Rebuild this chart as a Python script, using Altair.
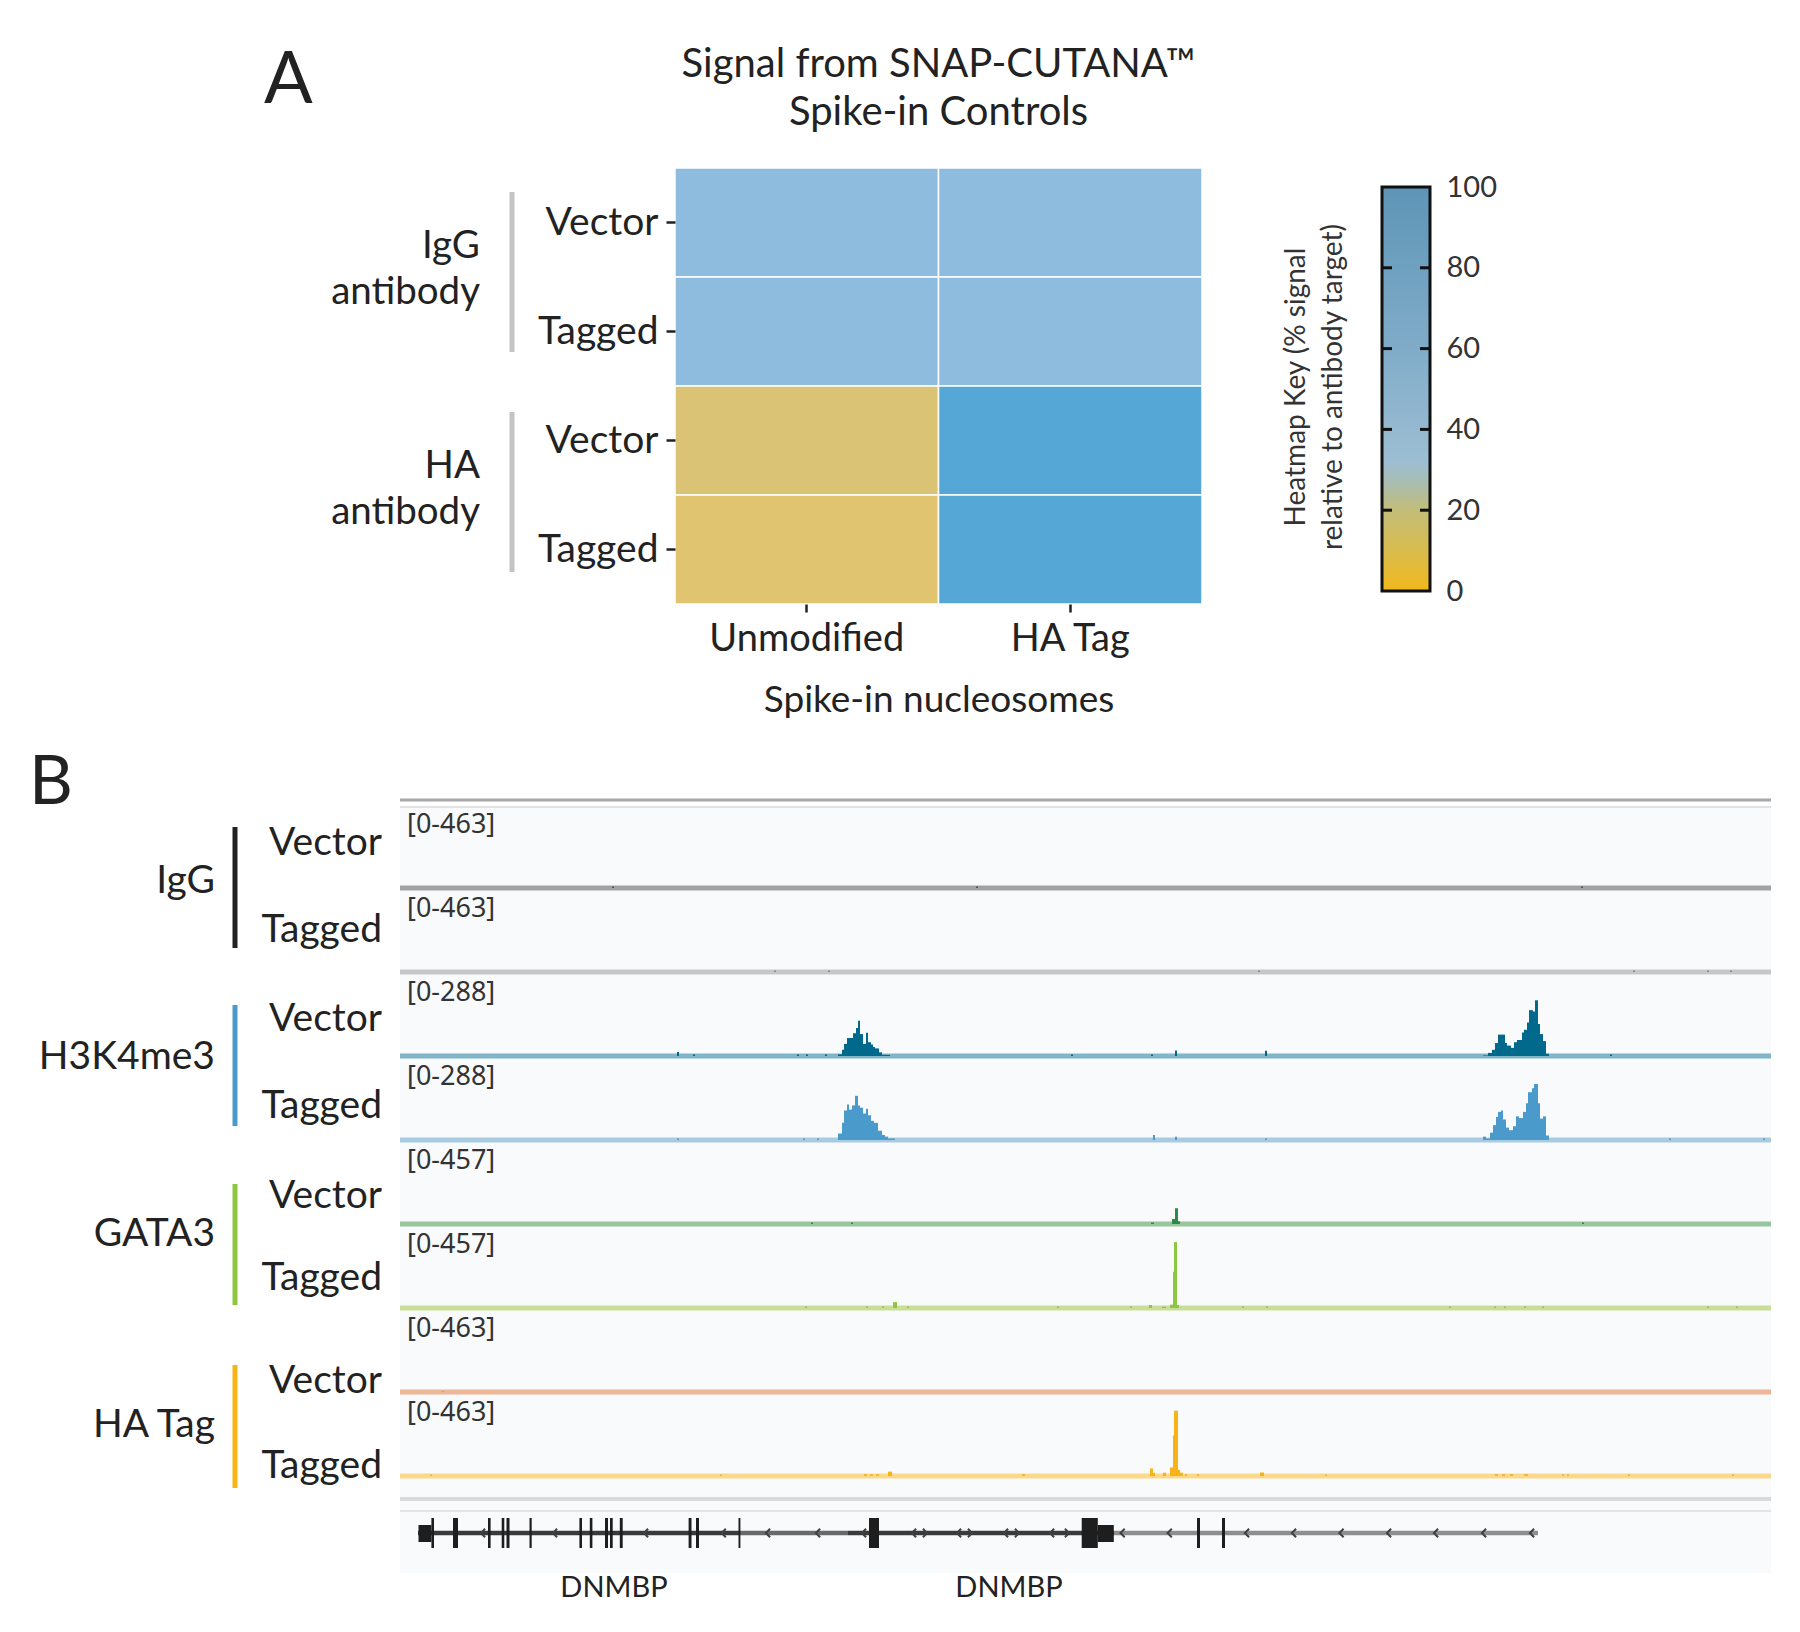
import altair as alt
import pandas as pd

# ======================= Panel A data =======================
SPIKES = ["Unmodified", "HA Tag"]
ANTIBODIES = ["IgG", "HA"]
CELL_LINES = ["Vector", "Tagged"]
# % signal relative to antibody target; order IgG-Vector, IgG-Tagged, HA-Vector, HA-Tagged
PCT_UNMODIFIED = [41, 41, 12, 10]
PCT_HA_TAG = [40, 40, 100, 100]
KEY_RANGE = [0, 100]
KEY_TICKS = [0, 20, 40, 60, 80, 100]

# ======================= Panel B data =======================
REGION = [0, 1371]
TRACK_GROUPS = ["IgG", "H3K4me3", "GATA3", "HA Tag"]
TRACK_CONDS = ["Vector", "Tagged", "Vector", "Tagged", "Vector", "Tagged", "Vector", "Tagged"]
TRACK_MAX = [463, 463, 288, 288, 457, 457, 463, 463]

T1_START = [212, 576, 1181]
T1_END = [214, 578, 1183]
T1_VAL = [8, 8, 8]

T2_START = [374, 428, 858, 1233, 1307, 1330]
T2_END = [376, 430, 860, 1235, 1309, 1332]
T2_VAL = [8, 8, 8, 8, 8, 8]

T3_START = [277, 293, 397, 406, 425,
            438, 442, 444, 447, 453, 456, 458, 460, 463, 466, 468, 471, 473, 475, 479, 482,
            671, 751, 775, 865,
            1083, 1088, 1092, 1095, 1098, 1105, 1107, 1111, 1114, 1117, 1122, 1124, 1127, 1129,
            1133, 1135, 1138, 1140, 1143, 1146,
            1210]
T3_END = [279, 295, 399, 408, 427,
          442, 444, 447, 453, 456, 458, 460, 463, 466, 468, 471, 473, 475, 479, 482, 490,
          673, 753, 777, 867,
          1088, 1092, 1095, 1098, 1105, 1107, 1111, 1114, 1117, 1122, 1124, 1127, 1129, 1133,
          1135, 1138, 1140, 1143, 1146, 1149,
          1212]
T3_VAL = [14, 5, 5, 5, 5,
          6, 22, 43, 64, 81, 100, 125, 78, 43, 83, 49, 41, 32, 27, 13, 4,
          5, 5, 20, 19,
          2, 11, 22, 46, 76, 46, 37, 29, 49, 57, 84, 93, 119, 163, 158, 198, 114, 78, 53, 8,
          5]

T4_START = [277, 403, 417,
            438, 442, 444, 447, 449, 452, 455, 458, 460, 463, 466, 468, 471, 474, 478, 482, 485, 488,
            753, 775, 865,
            1083, 1086, 1090, 1093, 1096, 1098, 1101, 1103, 1106, 1109, 1113, 1116, 1119, 1123,
            1126, 1128, 1132, 1134, 1138, 1140, 1143, 1146,
            1269, 1363]
T4_END = [279, 405, 419,
          442, 444, 447, 449, 452, 455, 458, 460, 463, 466, 468, 471, 474, 478, 482, 485, 488, 495,
          755, 777, 867,
          1086, 1090, 1093, 1096, 1098, 1101, 1103, 1106, 1109, 1113, 1116, 1119, 1123, 1126,
          1128, 1132, 1134, 1138, 1140, 1143, 1146, 1149,
          1271, 1365]
T4_VAL = [5, 5, 5,
          23, 61, 105, 126, 108, 123, 157, 123, 115, 94, 111, 88, 68, 61, 33, 18, 12, 5,
          18, 12, 5,
          12, 5, 26, 53, 82, 100, 105, 73, 44, 35, 49, 84, 78, 100, 131, 170, 184, 199, 131, 76, 84, 16,
          5, 5]

T5_START = [411, 451, 751, 772, 775, 778, 1182]
T5_END = [413, 453, 754, 775, 778, 780, 1184]
T5_VAL = [8, 8, 8, 28, 89, 15, 8]

T6_START = [405, 466, 482, 493, 507, 657, 730, 749, 762, 770, 773, 774, 777,
            842, 866, 1049, 1094, 1104, 1124, 1142, 1307, 1336]
T6_END = [407, 468, 484, 497, 509, 659, 732, 752, 766, 773, 774, 777, 779,
          844, 868, 1051, 1096, 1106, 1126, 1144, 1309, 1338]
T6_VAL = [8, 8, 8, 33, 8, 8, 8, 17, 7, 19, 204, 372, 17,
          8, 8, 8, 8, 8, 8, 8, 8, 8]

T7_START = [42]
T7_END = [44]
T7_VAL = [6]

T8_START = [30, 320, 464, 470, 476, 488, 622, 750, 753, 763, 770, 773, 774, 778, 780, 785, 797,
            860, 925, 1095, 1102, 1110, 1124, 1162, 1167, 1228, 1332]
T8_END = [32, 322, 467, 473, 479, 492, 625, 753, 755, 766, 773, 774, 778, 780, 783, 787, 799,
          864, 927, 1098, 1105, 1113, 1128, 1164, 1169, 1230, 1334]
T8_VAL = [8, 8, 10, 10, 10, 25, 10, 43, 19, 19, 49, 231, 373, 34, 19, 11, 11,
          20, 8, 10, 10, 10, 10, 8, 8, 8, 8]

TRACK_STARTS = [T1_START, T2_START, T3_START, T4_START, T5_START, T6_START, T7_START, T8_START]
TRACK_ENDS = [T1_END, T2_END, T3_END, T4_END, T5_END, T6_END, T7_END, T8_END]
TRACK_VALUES = [T1_VAL, T2_VAL, T3_VAL, T4_VAL, T5_VAL, T6_VAL, T7_VAL, T8_VAL]

# gene model (DNMBP)
GENE_NAMES = ["DNMBP", "DNMBP"]
GENE_NAME_POS = [214, 609]
SEG_START = [18, 340, 448, 714]
SEG_END = [340, 448, 714, 1138]
SEG_DEPTH = [3, 2, 3, 1]  # overlapping transcripts
CDS_START = [31.4, 53, 88, 101.7, 106.5, 129.5, 179.4, 189.8, 205, 210, 219.8, 288.6, 296,
             338.5, 469, 681.7, 797, 822]
CDS_END = [34, 58, 90.6, 104.3, 109.5, 131.7, 182, 192.4, 208, 212.7, 222.7, 291.5, 299,
           340.4, 479, 697.8, 800, 825]
UTR_START = [18.5, 697.8]
UTR_END = [31.4, 713.8]
CHEV_LEFT = [83, 155, 246, 323.7, 368, 418, 464, 514, 559, 606, 652, 722.6, 769.7, 847, 894,
             941.5, 989, 1036, 1084, 1132]
CHEV_RIGHT = [525, 570, 617, 667]

# ======================= styles / layout =======================
FONT = "Lato"
FONT_SMALL = "Noto Sans"
INK = "#222222"
BAR_COLORS = ["#555555", "#8A8A8A", "#00698C", "#4A9BCB", "#2E8B45", "#8DC63F", "#E8956A", "#F8B316"]
LINE_COLORS = ["#A2A2A2", "#C7C7C7", "#80B5CA", "#A7CCE1", "#98C49E", "#C9DE96", "#EDB797", "#FCD98A"]
GROUP_COLORS = ["#222222", "#4A9BCB", "#8DC63F", "#F8B316"]
SUBLABEL_Y = [36, 39, 44, 47, 53, 51, 70, 71]
GROUP_LABEL_Y = [74, 82, 91, 114]
GROUP_BAR_Y = [(20, 141), (30, 151), (41, 162), (54, 177)]
KEY_GRADIENT = alt.LinearGradient(
    gradient="linear", x1=0, x2=0, y1=1, y2=0,
    stops=[alt.GradientStop(offset=0.0, color="#F2B81B"),
           alt.GradientStop(offset=0.10, color="#D9BC4E"),
           alt.GradientStop(offset=0.20, color="#C3BD78"),
           alt.GradientStop(offset=0.27, color="#A9BDB2"),
           alt.GradientStop(offset=0.32, color="#9DBED3"),
           alt.GradientStop(offset=0.60, color="#80ACC9"),
           alt.GradientStop(offset=1.0, color="#5E95B6")])

HEAT_W, HEAT_H = 527, 436
TRACK_W, TRACK_H = 1371, 84
TRACK_BASE = 81
GENE_H = 94

ANNOT = pd.DataFrame({"n": [0]})


def label(text, x, y, size, align="right", font=FONT, color=INK, **kw):
    return alt.Chart(ANNOT).mark_text(
        text=text, align=align, baseline=kw.pop("baseline", "middle"), font=font,
        fontSize=size, color=color, **kw
    ).encode(x=alt.value(x), y=alt.value(y))


def vbar(x, y1, y2, color, width):
    return alt.Chart(ANNOT).mark_rule(color=color, strokeWidth=width).encode(
        x=alt.value(x), y=alt.value(y1), y2=alt.value(y2))


# ======================= Panel A =======================
rows = []
for gi, ab in enumerate(ANTIBODIES):
    for ci, cl in enumerate(CELL_LINES):
        i = gi * 2 + ci
        rows.append({"row": f"{ab}|{cl}", "spike": SPIKES[0], "pct": PCT_UNMODIFIED[i]})
        rows.append({"row": f"{ab}|{cl}", "spike": SPIKES[1], "pct": PCT_HA_TAG[i]})
heat_df = pd.DataFrame(rows)
row_order = [f"{ab}|{cl}" for ab in ANTIBODIES for cl in CELL_LINES]

heat = alt.Chart(heat_df).mark_rect(stroke="white", strokeWidth=1.5).encode(
    x=alt.X("spike:N", sort=SPIKES, scale=alt.Scale(paddingInner=0, paddingOuter=0),
            axis=alt.Axis(title="Spike-in nucleosomes", labelAngle=0, labelFont=FONT,
                          labelFontSize=38, labelColor=INK, labelPadding=8, tickSize=8,
                          labelLimit=500,
                          tickWidth=2.5, tickColor=INK, domain=False, titleFont=FONT,
                          titleFontSize=37, titleFontWeight="normal", titleColor=INK,
                          titlePadding=24)),
    y=alt.Y("row:N", sort=row_order, scale=alt.Scale(paddingInner=0, paddingOuter=0),
            axis=alt.Axis(title=None, labelExpr="split(datum.value, '|')[1]", labelFont=FONT,
                          labelFontSize=39, labelColor=INK, labelPadding=8, tickSize=9,
                          tickWidth=2.5, tickColor=INK, domain=False, labelLimit=500)),
    color=alt.Color("pct:Q", scale=alt.Scale(domain=[10, 40, 100],
                                             range=["#E0C46F", "#8EBCDF", "#55A8D6"],
                                             interpolate="rgb"), legend=None),
)

# colour key drawn from its own 0-100 scale
key_y = alt.Scale(domain=KEY_RANGE, range=[423, 19], nice=False, zero=False)
key_df = pd.DataFrame({"lo": [KEY_RANGE[0]], "hi": [KEY_RANGE[1]]})
key_bar = alt.Chart(key_df).mark_rect(fill=KEY_GRADIENT, stroke="#111111", strokeWidth=3).encode(
    y=alt.Y("lo:Q", scale=key_y, axis=None), y2="hi:Q",
    x=alt.value(707), x2=alt.value(755))
tick_df = pd.DataFrame({"pct": KEY_TICKS})
key_axis = alt.Chart(tick_df).mark_rule(opacity=0).encode(
    y=alt.Y("pct:Q", scale=key_y,
            axis=alt.Axis(orient="right", offset=228, values=KEY_TICKS, ticks=False,
                          domain=False, grid=False, title=None, labelFont=FONT,
                          labelFontSize=29, labelColor="#333333", labelPadding=16,
                          labelFlush=False, labelOverlap=False)),
    x=alt.value(707), x2=alt.value(708))
inner_df = pd.DataFrame({"pct": KEY_TICKS[1:-1]})
key_ticks_l = alt.Chart(inner_df).mark_rule(color="#111111", strokeWidth=3).encode(
    y=alt.Y("pct:Q", scale=key_y, axis=None), x=alt.value(707), x2=alt.value(717))
key_ticks_r = alt.Chart(inner_df).mark_rule(color="#111111", strokeWidth=3).encode(
    y=alt.Y("pct:Q", scale=key_y, axis=None), x=alt.value(745), x2=alt.value(755))

key_title = label(["Heatmap Key (% signal", "relative to antibody target)"], 622, 219, 28,
                  align="center", color="#333333", angle=270, lineHeight=37)

heat_layer = alt.layer(
    heat, key_bar, key_axis, key_ticks_l, key_ticks_r, key_title,
    label(["IgG", "antibody"], -195, 78, 38.5, lineHeight=46),
    label(["HA", "antibody"], -195, 298, 38.5, lineHeight=46),
    vbar(-163, 24, 184, "#C4C4C4", 5),
    vbar(-163, 244, 404, "#C4C4C4", 5),
).properties(
    width=HEAT_W, height=HEAT_H,
    title=alt.Title(["Signal from SNAP-CUTANA™", "Spike-in Controls"], font=FONT, fontSize=40,
                    fontWeight="normal", color=INK, lineHeight=48, offset=34,
                    anchor="middle", frame="group"),
).resolve_scale(y="independent")

spacer = label("A", -136, -65, 72, align="left", baseline="alphabetic").properties(
    width=275, height=HEAT_H)

top_row = alt.hconcat(spacer, heat_layer, spacing=0, bounds="flush")

# ======================= Panel B =======================
xs = alt.Scale(domain=REGION, nice=False, zero=False)
span_df = pd.DataFrame({"start": [REGION[0]], "end": [REGION[1]]})


def track(k):
    df = pd.DataFrame({"start": TRACK_STARTS[k], "end": TRACK_ENDS[k], "signal": TRACK_VALUES[k]})
    ys = alt.Scale(domain=[0, TRACK_MAX[k]], nice=False, range=[TRACK_BASE, 0])
    baseline = alt.Chart(span_df).mark_rule(color=LINE_COLORS[k], strokeWidth=5).encode(
        x=alt.X("start:Q", scale=xs, axis=None), x2="end:Q",
        y=alt.YDatum(0, scale=ys, axis=None))
    bars = alt.Chart(df).mark_rect(color=BAR_COLORS[k]).encode(
        x=alt.X("start:Q", scale=xs, axis=None), x2="end:Q",
        y=alt.Y("signal:Q", scale=ys, axis=None), y2=alt.Y2Datum(0))
    layers = [baseline, bars,
              label(f"[0-{TRACK_MAX[k]}]", 7, 18, 27, align="left", font=FONT_SMALL,
                    color="#333333"),
              label(TRACK_CONDS[k], -18, SUBLABEL_Y[k], 39)]
    if k % 2 == 0:
        g = k // 2
        layers.append(label(TRACK_GROUPS[g], -185, GROUP_LABEL_Y[g], 39))
        layers.append(vbar(-165, GROUP_BAR_Y[g][0], GROUP_BAR_Y[g][1], GROUP_COLORS[g], 5))
    if k == 0:
        layers.append(alt.Chart(span_df).mark_rule(color="#A8A8A8", strokeWidth=3).encode(
            x=alt.X("start:Q", scale=xs, axis=None), x2="end:Q", y=alt.value(-7)))
        layers.append(alt.Chart(span_df).mark_rule(color="#E2E2E2", strokeWidth=2).encode(
            x=alt.X("start:Q", scale=xs, axis=None), x2="end:Q", y=alt.value(0)))
        layers.append(label("B", -371, -3, 68, align="left", baseline="alphabetic"))
    return alt.layer(*layers).properties(
        width=TRACK_W, height=TRACK_H,
        view=alt.ViewBackground(fill="#F8FAFC", stroke=None))


tracks = [track(k) for k in range(8)]

seg_df = pd.DataFrame({"start": SEG_START, "end": SEG_END, "depth": SEG_DEPTH})
cds_df = pd.DataFrame({"start": CDS_START, "end": CDS_END})
utr_df = pd.DataFrame({"start": UTR_START, "end": UTR_END})
chl_df = pd.DataFrame({"pos": CHEV_LEFT})
chr_df = pd.DataFrame({"pos": CHEV_RIGHT})
name_df = pd.DataFrame({"gene": GENE_NAMES, "pos": GENE_NAME_POS})

gene_line = alt.Chart(seg_df).mark_rule(strokeWidth=4.5).encode(
    x=alt.X("start:Q", scale=xs, axis=None), x2="end:Q", y=alt.value(54),
    color=alt.Color("depth:O", scale=alt.Scale(domain=[1, 2, 3],
                                               range=["#8E8E8E", "#6A6A6A", "#3A3A3A"]),
                    legend=None))
cds = alt.Chart(cds_df).mark_rect(color="#1E1E1E").encode(
    x=alt.X("start:Q", scale=xs, axis=None), x2="end:Q", y=alt.value(39), y2=alt.value(69))
utr = alt.Chart(utr_df).mark_rect(color="#1E1E1E").encode(
    x=alt.X("start:Q", scale=xs, axis=None), x2="end:Q", y=alt.value(46), y2=alt.value(63))
chev_l = alt.Chart(chl_df).mark_point(shape="M0.5,-1L-0.5,0L0.5,1", filled=False,
                                      strokeWidth=2, size=70, color="#404040", opacity=1).encode(
    x=alt.X("pos:Q", scale=xs, axis=None), y=alt.value(54))
chev_r = alt.Chart(chr_df).mark_point(shape="M-0.5,-1L0.5,0L-0.5,1", filled=False,
                                      strokeWidth=2, size=70, color="#404040", opacity=1).encode(
    x=alt.X("pos:Q", scale=xs, axis=None), y=alt.value(54))
names = alt.Chart(name_df).mark_text(font=FONT, fontSize=29, color=INK, baseline="middle").encode(
    x=alt.X("pos:Q", scale=xs, axis=None), y=alt.value(109), text="gene:N")
sep1 = alt.Chart(span_df).mark_rule(color="#DADADA", strokeWidth=4).encode(
    x=alt.X("start:Q", scale=xs, axis=None), x2="end:Q", y=alt.value(20))
sep2 = alt.Chart(span_df).mark_rule(color="#E4E4E4", strokeWidth=2).encode(
    x=alt.X("start:Q", scale=xs, axis=None), x2="end:Q", y=alt.value(32))

gene = alt.layer(sep1, sep2, gene_line, utr, cds, chev_l, chev_r, names).properties(
    width=TRACK_W, height=GENE_H,
    view=alt.ViewBackground(fill="#F8FAFC", stroke=None))

panel_b = alt.vconcat(*tracks, gene, spacing=0, bounds="flush")

chart = alt.vconcat(top_row, panel_b, spacing=639, bounds="flush").properties(
    padding={"left": 21, "top": 37, "right": 5, "bottom": 5},
    background="white",
).configure_view(stroke=None)

chart.save("out.html", embed_options={"renderer": "svg", "actions": False})
